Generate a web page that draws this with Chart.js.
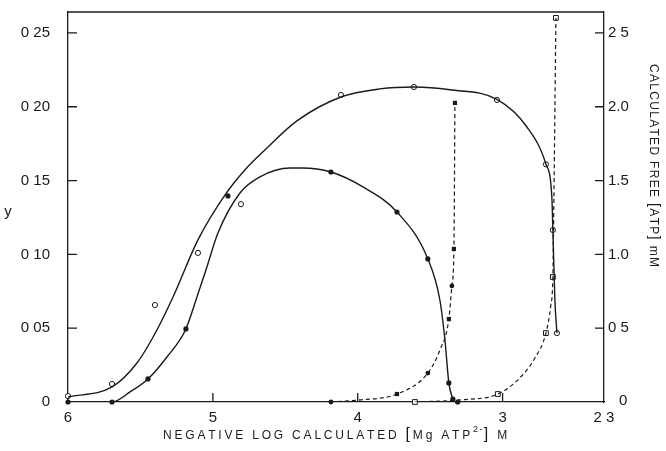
<!DOCTYPE html>
<html><head><meta charset="utf-8">
<script src="https://cdn.jsdelivr.net/npm/chart.js@4.4.1/dist/chart.umd.min.js"></script>
<style>html,body{margin:0;padding:0;background:#fff;}canvas{display:block;}</style>
</head><body>
<canvas id="c" width="666" height="451"></canvas>
<script>
// ---------- tick values and labels ----------
const xTickValues = [6, 5, 4, 3, 2.3];
const xTickLabels = ['6', '5', '4', '3', '2 3'];
const yLeftTickValues = [0, 0.05, 0.10, 0.15, 0.20, 0.25];
const yLeftTickLabels = ['0', '0 05', '0 10', '0 15', '0 20', '0 25'];
const yRightTickValues = [0, 0.5, 1.0, 1.5, 2.0, 2.5];
const yRightTickLabels = ['0', '0 5', '1.0', '1.5', '2.0', '2 5'];

// ---------- fitted curve, open circles (left axis, y) ----------
const openCurveX = [6.0, 5.696, 5.524, 5.386, 5.275, 5.103, 4.917, 4.779, 4.641, 4.42, 4.116, 3.847, 3.612, 3.364, 3.039, 2.832, 2.701, 2.66, 2.653, 2.639, 2.625];
const openCurveY = [0.0034, 0.0102, 0.0264, 0.0488, 0.0711, 0.1098, 0.1402, 0.1572, 0.1707, 0.1904, 0.2066, 0.2121, 0.2134, 0.2115, 0.2050, 0.1863, 0.1612, 0.1389, 0.1165, 0.0691, 0.0467];
// open circle data points
const openPtsX = [6.0, 5.696, 5.40, 5.103, 4.806, 4.116, 3.612, 3.039, 2.701, 2.653, 2.625];
const openPtsY = [0.004, 0.0122, 0.0657, 0.101, 0.134, 0.208, 0.2134, 0.2046, 0.161, 0.1165, 0.0467];

// ---------- fitted curve, filled circles (left axis, y) ----------
const filledCurveX = [6.0, 5.696, 5.572, 5.448, 5.317, 5.186, 5.11, 5.041, 4.965, 4.813, 4.675, 4.468, 4.385, 4.185, 3.964, 3.729, 3.516, 3.433, 3.398, 3.371, 3.343];
const filledCurveY = [0, 0, 0.0068, 0.0156, 0.0305, 0.0495, 0.0711, 0.0915, 0.1145, 0.1416, 0.1525, 0.1585, 0.1585, 0.1558, 0.1457, 0.1287, 0.0969, 0.0691, 0.042, 0.0129, 0.0014];
// filled circle data points
const filledPtsX = [6.0, 5.696, 5.448, 5.186, 4.896, 4.185, 3.729, 3.516, 3.371, 3.343, 3.31];
const filledPtsY = [0, 0, 0.0156, 0.0495, 0.1396, 0.1558, 0.1287, 0.0969, 0.0129, 0.002, 0];

// ---------- calculated free [ATP] mM (right axis), filled-symbol series ----------
const atpFilledCurveX = [4.185, 3.985, 3.729, 3.516, 3.433, 3.371, 3.35, 3.336, 3.329];
const atpFilledCurveY = [0, 0.014, 0.054, 0.196, 0.352, 0.562, 0.786, 1.037, 2.026];
const atpFilledSqX = [3.729, 3.371, 3.336, 3.329];
const atpFilledSqY = [0.054, 0.562, 1.037, 2.026];
const atpFilledDotX = [4.185, 3.516, 3.35];
const atpFilledDotY = [0, 0.196, 0.786];

// ---------- calculated free [ATP] mM (right axis), open-symbol series ----------
const atpOpenCurveX = [3.605, 3.295, 3.033, 2.881, 2.777, 2.701, 2.667, 2.653, 2.646, 2.632];
const atpOpenCurveY = [0, 0.014, 0.054, 0.163, 0.298, 0.467, 0.657, 0.847, 1.369, 2.602];
const atpOpenSqX = [3.605, 3.033, 2.701, 2.653, 2.632];
const atpOpenSqY = [0, 0.054, 0.467, 0.847, 2.602];

const pts = (xs, ys) => xs.map((x, i) => ({ x: x, y: ys[i] }));
const INK = '#1a1a1a';
const FONT = "'Liberation Sans', Arial, sans-serif";
const TICK_FONT = { size: 15, family: FONT };

function drawSpaced(ctx, text, x, y, spacing) {
  for (const ch of text) {
    ctx.fillText(ch, x, y);
    x += ctx.measureText(ch).width + spacing;
  }
  return x;
}
function naturalWidth(ctx, text) {
  let w = 0;
  for (const ch of text) w += ctx.measureText(ch).width;
  return w;
}

const decor = {
  id: 'decor',
  afterDraw(chart) {
    const { ctx, chartArea: a, scales } = chart;
    ctx.save();
    ctx.strokeStyle = INK;
    ctx.lineWidth = 1.3;
    ctx.beginPath();
    ctx.moveTo(a.left, a.top); ctx.lineTo(a.right, a.top);
    ctx.stroke();
    // inward tick marks
    ctx.beginPath();
    yLeftTickValues.forEach(v => {
      if (v === 0) return;
      const y = scales.y.getPixelForValue(v);
      ctx.moveTo(a.left, y); ctx.lineTo(a.left + 9, y);
    });
    yRightTickValues.forEach(v => {
      if (v === 0) return;
      const y = scales.y2.getPixelForValue(v);
      ctx.moveTo(a.right, y); ctx.lineTo(a.right - 9, y);
    });
    xTickValues.forEach((v, i) => {
      if (i === 0 || i === xTickValues.length - 1) return;
      const x = scales.x.getPixelForValue(v);
      ctx.moveTo(x, a.bottom); ctx.lineTo(x, a.bottom - 9);
    });
    ctx.stroke();

    ctx.fillStyle = INK;
    ctx.textBaseline = 'middle';
    // right-axis zero label, set as a superscript beside "2 3"
    ctx.font = '15px ' + FONT;
    ctx.textAlign = 'left';
    ctx.fillText(yRightTickLabels[0], a.right + 15, scales.y2.getPixelForValue(0) - 1);

    // left axis title
    ctx.textAlign = 'center';
    ctx.fillText('y', 8, 212);

    // x axis title
    ctx.textAlign = 'left';
    const p1 = 'NEGATIVE LOG CALCULATED ', p2 = 'Mg ATP', p4 = ' M';
    const sup = '2-';
    ctx.font = '12px ' + FONT;
    let nat = naturalWidth(ctx, p1 + p2 + p4);
    ctx.font = '16px ' + FONT;
    nat += naturalWidth(ctx, '[]');
    ctx.font = '9px ' + FONT;
    nat += naturalWidth(ctx, sup);
    const nChars = (p1 + p2 + p4 + sup).length + 2;
    const sp = (347 - nat) / (nChars - 1);
    let x = 163;
    const ty = 436;
    ctx.font = '12px ' + FONT; x = drawSpaced(ctx, p1, x, ty, sp);
    ctx.font = '16px ' + FONT; x = drawSpaced(ctx, '[', x, ty - 1, sp);
    ctx.font = '12px ' + FONT; x = drawSpaced(ctx, p2, x, ty, sp);
    ctx.font = '9px ' + FONT; x = drawSpaced(ctx, sup, x, ty - 6, sp * 0.5);
    ctx.font = '16px ' + FONT; x = drawSpaced(ctx, ']', x, ty - 1, sp);
    ctx.font = '12px ' + FONT; x = drawSpaced(ctx, p4, x, ty, sp);

    // right axis title (rotated clockwise)
    ctx.save();
    ctx.translate(653, 64);
    ctx.rotate(Math.PI / 2);
    const r1 = 'CALCULATED FREE ', r2 = 'ATP', r3 = ' mM';
    ctx.font = '12px ' + FONT;
    let natR = naturalWidth(ctx, r1 + r2 + r3);
    ctx.font = '15px ' + FONT;
    natR += naturalWidth(ctx, '[]');
    const nR = (r1 + r2 + r3).length + 2;
    const spR = (203 - natR) / (nR - 1);
    let rx = 0;
    ctx.font = '12px ' + FONT; rx = drawSpaced(ctx, r1, rx, 0, spR);
    ctx.font = '15px ' + FONT; rx = drawSpaced(ctx, '[', rx, -1, spR);
    ctx.font = '12px ' + FONT; rx = drawSpaced(ctx, r2, rx, 0, spR);
    ctx.font = '15px ' + FONT; rx = drawSpaced(ctx, ']', rx, -1, spR);
    ctx.font = '12px ' + FONT; rx = drawSpaced(ctx, r3, rx, 0, spR);
    ctx.restore();
    ctx.restore();
  }
};

const curveStyle = { type: 'line', showLine: true, pointRadius: 0, borderColor: INK, borderWidth: 1.4, cubicInterpolationMode: 'monotone', fill: false };
const dashStyle = { type: 'line', showLine: true, pointRadius: 0, borderColor: INK, borderWidth: 1.2, borderDash: [4, 3], cubicInterpolationMode: 'monotone', fill: false };

const noPadY = s => { s.paddingTop = 0; s.paddingBottom = 0; };

const chart = new Chart(document.getElementById('c'), {
  type: 'scatter',
  data: {
    datasets: [
      Object.assign({ data: pts(openCurveX, openCurveY), yAxisID: 'y' }, curveStyle),
      Object.assign({ data: pts(filledCurveX, filledCurveY), yAxisID: 'y' }, curveStyle),
      Object.assign({ data: pts(atpFilledCurveX, atpFilledCurveY), yAxisID: 'y2' }, dashStyle),
      Object.assign({ data: pts(atpOpenCurveX, atpOpenCurveY), yAxisID: 'y2' }, dashStyle),
      { data: pts(openPtsX, openPtsY), yAxisID: 'y', pointStyle: 'circle', pointRadius: 2.6, pointBorderWidth: 1, pointBackgroundColor: '#fff', pointBorderColor: INK, showLine: false, clip: false },
      { data: pts(filledPtsX, filledPtsY), yAxisID: 'y', pointStyle: 'circle', pointRadius: 2.6, pointBorderWidth: 0, pointBackgroundColor: INK, pointBorderColor: INK, showLine: false, clip: false },
      { data: pts(atpFilledSqX, atpFilledSqY), yAxisID: 'y2', pointStyle: 'rect', pointRadius: 3, pointBorderWidth: 0, pointBackgroundColor: INK, pointBorderColor: INK, showLine: false, clip: false },
      { data: pts(atpFilledDotX, atpFilledDotY), yAxisID: 'y2', pointStyle: 'circle', pointRadius: 2.4, pointBorderWidth: 0, pointBackgroundColor: INK, pointBorderColor: INK, showLine: false, clip: false },
      { data: pts(atpOpenSqX, atpOpenSqY), yAxisID: 'y2', pointStyle: 'rect', pointRadius: 3.4, pointBorderWidth: 1, pointBackgroundColor: '#fff', pointBorderColor: INK, showLine: false, clip: false }
    ]
  },
  options: {
    responsive: false,
    animation: false,
    devicePixelRatio: 1,
    layout: { padding: { top: 12, left: 0, right: 0, bottom: 0 } },
    plugins: { legend: { display: false }, tooltip: { enabled: false } },
    scales: {
      x: {
        type: 'linear', reverse: true, min: 2.3, max: 6,
        grid: { display: false, drawTicks: false },
        border: { display: true, color: INK, width: 1.3 },
        ticks: { color: INK, font: TICK_FONT, padding: 7, maxRotation: 0, autoSkip: false,
          callback: (v, i) => xTickLabels[i] },
        afterBuildTicks: s => { s.ticks = xTickValues.map(v => ({ value: v })); },
        afterFit: s => { s.height = 49; s.paddingLeft = 0; s.paddingRight = 0; }
      },
      y: {
        type: 'linear', position: 'left', min: 0, max: 0.2642,
        grid: { display: false, drawTicks: false },
        border: { display: true, color: INK, width: 1.3 },
        ticks: { color: INK, font: TICK_FONT, padding: 18, autoSkip: false,
          callback: (v, i) => yLeftTickLabels[i] },
        afterBuildTicks: s => { s.ticks = yLeftTickValues.map(v => ({ value: v })); },
        afterFit: s => { s.width = 68; noPadY(s); }
      },
      y2: {
        type: 'linear', position: 'right', min: 0, max: 2.642,
        grid: { display: false, drawTicks: false },
        border: { display: true, color: INK, width: 1.3 },
        ticks: { color: INK, font: TICK_FONT, padding: 4, autoSkip: false,
          callback: (v, i) => (i === 0 ? '' : yRightTickLabels[i]) },
        afterBuildTicks: s => { s.ticks = yRightTickValues.map(v => ({ value: v })); },
        afterFit: s => { s.width = 62; noPadY(s); }
      }
    }
  },
  plugins: [decor]
});
</script>
</body></html>
